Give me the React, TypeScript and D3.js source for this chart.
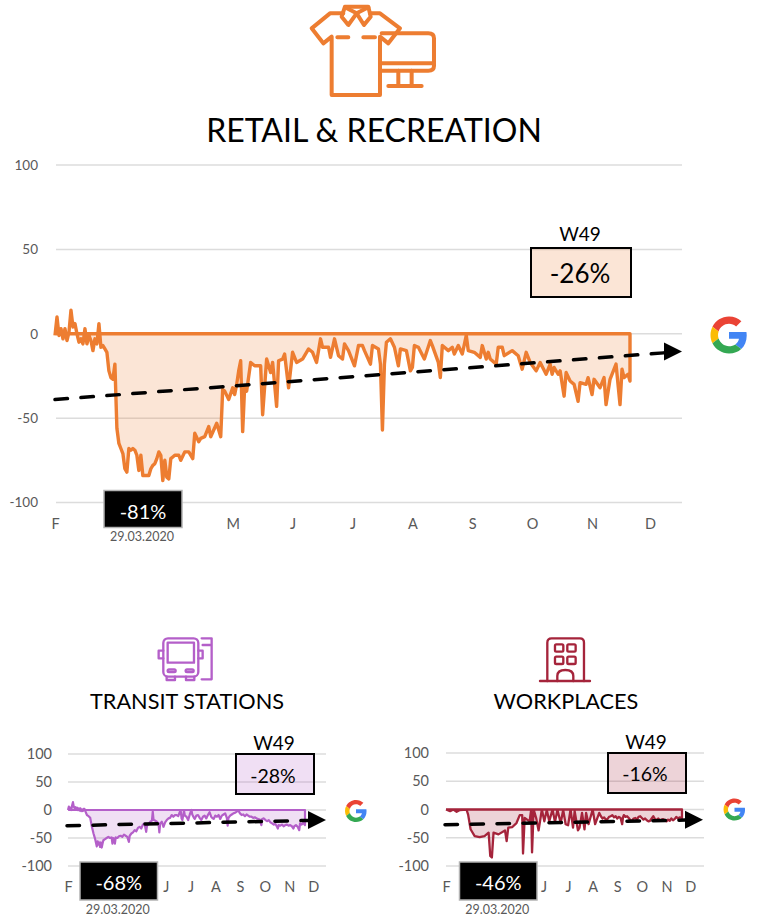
import React, { useRef, useEffect } from 'react';
import { select, scaleLinear, line, area, axisLeft, axisBottom } from 'd3';

const monthLabels = ['F', 'M', 'A', 'M', 'J', 'J', 'A', 'S', 'O', 'N', 'D'];
const monthDays = [0, 30, 59, 89, 119, 149, 179, 209, 239, 269, 298];
const yTicks = [100, 50, 0, -50, -100];

const retailDays = [0,1,2,3,4,5,6,7,8,9,10,11,12,13,14,15,16,17,18,19,20,21,22,23,24,25,26,27,28,29,30,31,32,33,34,35,36,37,38,39,40,41,42,43,44,45,46,47,48,49,50,51,52,53,54,55,56,57,58,59,60,62,63,65,67,69,70,72,73,75,77,78,81,83,84,85,87,89,90,91,92,93,94,95,96,98,100,103,104,106,108,109,111,112,114,115,117,119,121,124,127,129,131,133,134,137,138,140,142,144,145,147,150,152,154,155,158,159,162,163,164,165,166,168,170,172,173,176,178,179,180,182,185,188,189,192,193,194,197,199,200,202,204,206,207,210,213,214,216,217,218,221,222,224,225,229,232,234,236,238,241,243,246,248,249,250,252,253,255,256,258,260,262,263,266,267,269,270,273,275,276,278,281,283,284,285,287,288];
const retailValues = [-1,10,-1,3,-3,3,-4,1,14,4,6,0,-5,-3,-6,3,-6,-1,-4,-10,-3,-6,6,-8,-7,-9,-11,-22,-26,-27,-18,-56,-65,-68,-71,-80,-82,-68,-69,-68,-69,-72,-81,-72,-84,-84,-84,-84,-80,-78,-77,-74,-70,-72,-87,-75,-85,-86,-74,-73,-72,-72,-75,-70,-70,-74,-59,-64,-62,-61,-55,-61,-53,-61,-33,-34,-39,-32,-36,-30,-22,-16,-58,-31,-34,-17,-19,-19,-48,-15,-23,-17,-43,-16,-15,-12,-32,-11,-17,-15,-9,-11,-17,-3,-8,-8,-14,-3,-13,-15,-6,-10,-19,-7,-7,-10,-18,-7,-9,-18,-57,-18,-5,-3,-8,-19,-9,-10,-22,-20,-7,-8,-15,-4,-7,-17,-26,-7,-10,-8,-12,-7,-12,-1,-10,-11,-14,-7,-15,-11,-15,-18,-8,-8,-13,-10,-13,-21,-11,-17,-22,-17,-24,-18,-24,-20,-24,-22,-37,-23,-28,-30,-40,-29,-30,-26,-36,-27,-32,-26,-42,-27,-18,-42,-21,-26,-24,-28];

const transitDays = [0,1,2,3,4,5,6,7,8,9,10,11,12,13,14,15,16,17,18,19,20,21,23,25,27,29,31,33,35,36,37,38,39,40,41,42,43,45,47,49,51,53,54,55,56,57,58,60,62,64,66,68,70,72,74,75,77,79,81,83,85,87,89,91,93,95,96,98,100,102,103,104,106,108,110,111,112,114,116,118,120,122,124,126,128,130,132,134,136,137,138,139,141,142,144,146,148,150,151,153,154,156,158,160,162,164,166,168,170,172,174,176,177,179,181,183,185,187,189,191,193,194,195,197,199,201,203,205,207,209,211,213,215,217,219,221,223,225,227,229,231,233,235,236,238,240,242,244,246,248,250,252,254,255,256,258,260,262,264,266,268,270,272,274,275,277,279,281,282,284,286,288];
const transitValues = [0,6,1,4,0,8,14,6,3,5,2,4,0,3,-1,3,-2,1,-2,2,2,-2,-9,-11,-14,-30,-42,-52,-65,-56,-62,-58,-66,-58,-67,-60,-54,-52,-50,-48,-50,-49,-60,-50,-52,-60,-49,-50,-47,-46,-48,-44,-46,-48,-57,-46,-42,-40,-36,-38,-32,-30,-33,-26,-24,-39,-28,-25,-21,-19,-3,-18,-19,-21,-24,-40,-24,-21,-30,-22,-18,-15,-14,-9,-12,-9,-9,-11,-3,-2,-15,-18,-1,-10,-12,-18,-8,0,-8,-14,-16,-10,-9,-14,-18,-12,-10,-15,-9,-4,-12,-15,-16,-10,-12,-9,-16,-10,-8,-6,-14,-28,-14,-10,-8,-6,-5,-3,-1,-6,-9,-8,-11,-8,-10,-12,-12,-14,-13,-15,-16,-17,-27,-16,-15,-18,-20,-18,-22,-24,-26,-25,-30,-33,-27,-28,-26,-29,-27,-26,-28,-27,-29,-33,-29,-27,-30,-36,-24,-26,-23,-27];

const workDays = [0,5,9,13,17,25,27,30,35,41,47,52,54,56,58,64,72,74,76,81,86,90,93,94,96,102,104,105,107,110,113,117,120,123,126,130,133,136,140,143,146,149,152,155,157,161,163,166,169,171,174,179,182,187,189,191,193,195,197,199,201,203,205,207,209,211,213,215,216,217,219,221,223,225,227,229,231,233,235,237,239,241,243,245,247,249,251,253,255,257,259,261,263,265,267,269,271,273,275,277,279,281,283,285,288];
const workValues = [0,-3,0,-4,-1,0,-9,-35,-47,-49,-47,-41,-82,-85,-41,-44,-37,-56,-32,-31,-24,-10,-10,-78,-15,-21,0,-76,0,-15,-37,0,-21,-1,-21,0,-22,-1,-24,-1,-26,-28,0,-32,-3,-37,-32,-6,-35,-6,-26,0,-26,-6,-12,-16,-14,-18,-17,-13,-12,-10,-14,-12,-16,-13,-15,-26,-14,-10,-13,-12,-15,-19,-20,-16,-15,-18,-13,-12,-15,-18,-16,-19,-21,-20,-16,-12,-17,-19,-16,-20,-18,-17,-19,-21,-18,-20,-16,-19,-17,-13,-16,-14,-15];

const retailTrend = [-39, -10.5];
const transitTrend = [-28, -18];
const workTrend = [-27, -18];

const FONT = 'Lato, "Open Sans", sans-serif';

function drawPanel(svg: any, p: any) {
    const x = scaleLinear().domain([0, 288]).range(p.xRange);
    const y = scaleLinear().domain([-100, 100]).range(p.yRange);
    const g = svg.append('g');

    // grid
    g.selectAll('.grid')
        .data(yTicks)
        .join('line')
        .attr('x1', p.gridX[0])
        .attr('x2', p.gridX[1])
        .attr('y1', (d: number) => y(d))
        .attr('y2', (d: number) => y(d))
        .attr('stroke', '#dcdcdc')
        .attr('stroke-width', 1.5);

    const yAxis: any = axisLeft(y).tickValues(yTicks).tickSize(0).tickPadding(0).tickFormat((d: any) => `${d}`);
    g.append('g')
        .attr('transform', `translate(${p.yLabelX},0)`)
        .call(yAxis)
        .call((a: any) => a.select('.domain').remove())
        .selectAll('text')
        .attr('font-family', FONT)
        .attr('font-size', p.tickSize)
        .attr('fill', '#595959');

    // the months under the black box do not show in the picture
    const shownMonths = monthDays.filter((d, i) => !p.hiddenMonths.includes(i));
    const xAxis: any = axisBottom(x)
        .tickValues(shownMonths)
        .tickSize(0)
        .tickPadding(0)
        .tickFormat((d: any) => monthLabels[monthDays.indexOf(d)]);
    g.append('g')
        .attr('transform', `translate(0,${p.xLabelY})`)
        .call(xAxis)
        .call((a: any) => a.select('.domain').remove())
        .selectAll('text')
        .attr('font-family', FONT)
        .attr('font-size', 14.5)
        .attr('fill', '#595959');

    // area and outline
    const pts = p.days.map((d: number, i: number) => [d, p.values[i]]);
    const areaGen: any = area()
        .x((d: any) => x(d[0]))
        .y0(y(0))
        .y1((d: any) => y(Math.min(d[1], 0)));
    g.append('path').attr('d', areaGen(pts)).attr('fill', p.color).attr('fill-opacity', 0.2);

    const lineGen: any = line()
        .x((d: any) => x(d[0]))
        .y((d: any) => y(d[1]));
    const outline = [...pts, [288, 0], [0, 0]];
    g.append('path')
        .attr('d', lineGen(outline))
        .attr('fill', 'none')
        .attr('stroke', p.color)
        .attr('stroke-width', p.lineWidth)
        .attr('stroke-linejoin', 'round');

    // trend with arrow head
    const tipDay = x.invert(p.tipX);
    const baseDay = x.invert(p.tipX - p.arrow[0]);
    const slope = (p.trend[1] - p.trend[0]) / tipDay;
    const startDay = x.invert(p.gridX[0] - 1);
    const trendGen: any = line()
        .x((d: any) => x(d))
        .y((d: any) => y(p.trend[0] + slope * d));
    g.append('path')
        .attr('d', trendGen([startDay, baseDay]))
        .attr('fill', 'none')
        .attr('stroke', '#000')
        .attr('stroke-width', 3.5)
        .attr('stroke-linecap', 'round')
        .attr('stroke-dasharray', '12.5 13.5');
    const tipY = y(p.trend[1]);
    g.append('path')
        .attr('d', `M${p.tipX},${tipY}L${p.tipX - p.arrow[0]},${tipY - p.arrow[1]}L${p.tipX - p.arrow[0]},${tipY + p.arrow[1]}Z`)
        .attr('fill', '#000');

    // week box
    const b = p.weekBox;
    g.append('rect')
        .attr('x', b[0])
        .attr('y', b[1])
        .attr('width', b[2])
        .attr('height', b[3])
        .attr('fill', p.color)
        .attr('fill-opacity', 0.2)
        .attr('stroke', '#000')
        .attr('stroke-width', 2);
    const text = (tx: number, ty: number, s: string, size: number, fill: string) =>
        g.append('text')
            .attr('x', tx)
            .attr('y', ty)
            .attr('text-anchor', 'middle')
            .attr('dominant-baseline', 'central')
            .attr('font-family', FONT)
            .attr('font-size', size)
            .attr('fill', fill)
            .text(s);
    text(b[0] + b[2] / 2 + p.weekTextDx, b[1] + p.weekTextDy, p.weekValue, p.weekSize, '#000');
    text(b[0] + b[2] / 2 - 1, b[1] - p.weekLabelDy, 'W49', 19, '#000');

    // low box
    const k = p.lowBox;
    g.append('rect')
        .attr('x', k[0])
        .attr('y', k[1])
        .attr('width', k[2])
        .attr('height', k[3])
        .attr('fill', '#000')
        .attr('stroke', '#b3b3b3')
        .attr('stroke-width', 1.5);
    text(k[0] + k[2] / 2, k[1] + 20, p.lowValue, 20, '#fff');
    text(k[0] + k[2] / 2 - 1, k[1] + k[3] + 9, '29.03.2020', 12.5, '#595959');

    text(p.titleX, p.titleY, p.title, p.titleSize, '#000');
}

const panels = [
    {
        title: 'RETAIL & RECREATION', titleX: 374, titleY: 129, titleSize: 32,
        days: retailDays, values: retailValues, trend: retailTrend, color: '#ed7d31',
        xRange: [55, 630], yRange: [502.5, 165], gridX: [56, 682], yLabelX: 38, xLabelY: 518.5, lineWidth: 3.4, tickSize: 13.5,
        tipX: 682, arrow: [18, 9], hiddenMonths: [1, 2],
        weekBox: [531, 248, 100, 49], weekTextDx: -1, weekTextDy: 25, weekSize: 26, weekLabelDy: 15, weekValue: '-26%',
        lowBox: [104, 490.5, 78, 37], lowValue: '-81%',
    },
    {
        title: 'TRANSIT STATIONS', titleX: 187, titleY: 701, titleSize: 21.7,
        days: transitDays, values: transitValues, trend: transitTrend, color: '#b45fc9',
        xRange: [68, 305], yRange: [866, 754], gridX: [68, 326], yLabelX: 52, xLabelY: 881.5, lineWidth: 2.2, tickSize: 14.5,
        tipX: 326, arrow: [18, 9], hiddenMonths: [1, 2, 3],
        weekBox: [236, 754, 78, 40], weekTextDx: -2, weekTextDy: 21, weekSize: 19.5, weekLabelDy: 12, weekValue: '-28%',
        lowBox: [80, 862, 77.5, 38], lowValue: '-68%',
    },
    {
        title: 'WORKPLACES', titleX: 566, titleY: 701, titleSize: 21.7,
        days: workDays, values: workValues, trend: workTrend, color: '#a5243b',
        xRange: [446, 682], yRange: [866, 753], gridX: [446, 704], yLabelX: 429, xLabelY: 881.5, lineWidth: 2.3, tickSize: 14.5,
        tipX: 703, arrow: [18, 9], hiddenMonths: [1, 2, 3],
        weekBox: [608, 753, 78, 40], weekTextDx: -2, weekTextDy: 20, weekSize: 19.5, weekLabelDy: 12, weekValue: '-16%',
        lowBox: [459.5, 862, 77.5, 38], lowValue: '-46%',
    },
];

function GoogleG({ cx, cy, size }: { cx: number; cy: number; size: number }) {
    return (
        <g transform={`translate(${cx - size / 2},${cy - size / 2}) scale(${size / 48})`}>
            <path fill="#EA4335" d="M24 9.5c3.54 0 6.71 1.22 9.21 3.6l6.85-6.85C35.9 2.38 30.47 0 24 0 14.62 0 6.51 5.38 2.56 13.22l7.98 6.19C12.43 13.72 17.74 9.5 24 9.5z" />
            <path fill="#4285F4" d="M46.98 24.55c0-1.57-.15-3.09-.38-4.55H24v9.02h12.94c-.58 2.96-2.26 5.48-4.78 7.18l7.73 6c4.51-4.18 7.09-10.36 7.09-17.65z" />
            <path fill="#FBBC05" d="M10.53 28.59c-.48-1.45-.76-2.99-.76-4.59s.27-3.14.76-4.59l-7.98-6.19C.92 16.46 0 20.12 0 24c0 3.88.92 7.54 2.56 10.78l7.97-6.19z" />
            <path fill="#34A853" d="M24 48c6.48 0 11.93-2.13 15.89-5.81l-7.73-6c-2.15 1.45-4.92 2.3-8.16 2.3-6.26 0-11.57-4.22-13.47-9.91l-7.98 6.19C6.51 42.62 14.62 48 24 48z" />
        </g>
    );
}

// icons are traced in the 3x crop coordinates, hence the scale
function ShirtIcon() {
    return (
        <g transform="translate(280,0) scale(0.3333)" fill="none" stroke="#ed7d31" strokeWidth={12} strokeLinejoin="round" strokeLinecap="round">
            <path d="M190,40L150,40L95,85L130,130L155,110L155,285L300,285L300,110L325,130L360,85L300,40L270,40" />
            <path d="M195,20L265,20L272,50L252,75L230,40L205,75L185,50Z" />
            <path d="M195,22L230,40L265,22" />
            <path d="M172,112H205M250,112H285" />
            <path d="M305,100H445Q462,100 462,115V198Q462,212 445,212H305M305,190H462" />
            <path d="M355,212V258M395,212V258M325,258H425" />
        </g>
    );
}

function BusIcon() {
    return (
        <g transform="translate(0,630) scale(0.3333)" fill="none" stroke="#b45fc9" strokeWidth={7} strokeLinejoin="round" strokeLinecap="round">
            <rect x={490} y={25} width={105} height={115} rx={14} />
            <rect x={503} y={38} width={79} height={60} />
            <path d="M490,62H476V85H490M595,62H608V85H595" />
            <rect x={503} y={118} width={24} height={8} rx={4} />
            <rect x={557} y={118} width={24} height={8} rx={4} />
            <path d="M500,140V150H525V140M558,140V150H583V140" />
            <path d="M605,25H635V148H605M608,45H635" />
        </g>
    );
}

function BuildingIcon() {
    return (
        <g transform="translate(380,630) scale(0.3333)" fill="none" stroke="#a5243b" strokeWidth={7} strokeLinejoin="round" strokeLinecap="round">
            <path d="M502,153V38Q502,25 515,25H600Q612,25 612,38V153" />
            <path d="M480,153H630" />
            <rect x={525} y={43} width={25} height={22} rx={4} />
            <rect x={562} y={43} width={25} height={22} rx={4} />
            <rect x={525} y={80} width={25} height={22} rx={4} />
            <rect x={562} y={80} width={25} height={22} rx={4} />
            <path d="M532,153V138Q532,120 556,120Q580,120 580,138V153" />
        </g>
    );
}

export default function App() {
    const chartRef = useRef<SVGGElement | null>(null);

    useEffect(() => {
        const root = select(chartRef.current);
        root.selectAll('*').remove();
        panels.forEach((p) => drawPanel(root, p));
    }, []);

    return (
        <svg width={757} height={917} style={{ position: 'absolute', left: 0, top: 0, background: '#fff' }}>
            <g ref={chartRef} />
            <ShirtIcon />
            <BusIcon />
            <BuildingIcon />
            <GoogleG cx={729} cy={335} size={37} />
            <GoogleG cx={356} cy={811} size={22} />
            <GoogleG cx={734.5} cy={809.5} size={22} />
        </svg>
    );
}
